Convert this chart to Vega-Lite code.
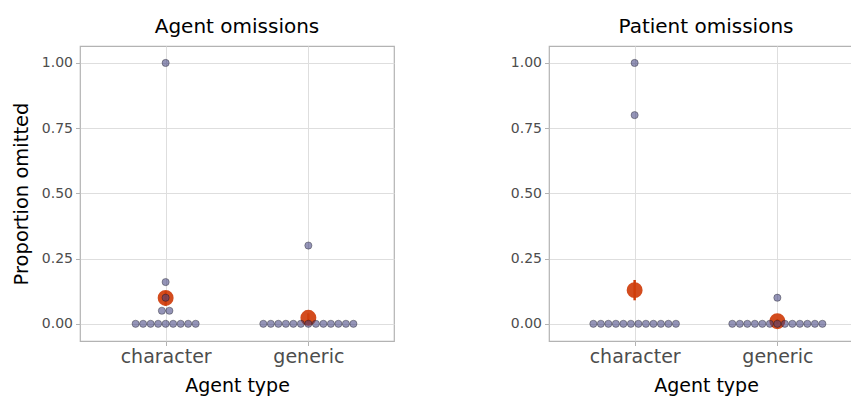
{
  "$schema": "https://vega.github.io/schema/vega-lite/v6.json",
  "background": "white",
  "padding": {"left": 10, "top": 16, "right": 0, "bottom": 0},
  "spacing": 114,
  "config": {
    "font": "DejaVu Sans",
    "view": {"stroke": "#b3b3b3", "strokeWidth": 1.2},
    "title": {"fontSize": 20, "fontWeight": "normal", "color": "#000000", "offset": 9, "anchor": "middle"}
  },
  "datasets": {
    "dots": [
      {"task": "Agent omissions", "type": "character", "prop": 0},
      {"task": "Agent omissions", "type": "character", "prop": 0},
      {"task": "Agent omissions", "type": "character", "prop": 0},
      {"task": "Agent omissions", "type": "character", "prop": 0},
      {"task": "Agent omissions", "type": "character", "prop": 0},
      {"task": "Agent omissions", "type": "character", "prop": 0},
      {"task": "Agent omissions", "type": "character", "prop": 0},
      {"task": "Agent omissions", "type": "character", "prop": 0},
      {"task": "Agent omissions", "type": "character", "prop": 0},
      {"task": "Agent omissions", "type": "character", "prop": 0.05},
      {"task": "Agent omissions", "type": "character", "prop": 0.05},
      {"task": "Agent omissions", "type": "character", "prop": 0.1},
      {"task": "Agent omissions", "type": "character", "prop": 0.16},
      {"task": "Agent omissions", "type": "character", "prop": 1},
      {"task": "Agent omissions", "type": "generic", "prop": 0},
      {"task": "Agent omissions", "type": "generic", "prop": 0},
      {"task": "Agent omissions", "type": "generic", "prop": 0},
      {"task": "Agent omissions", "type": "generic", "prop": 0},
      {"task": "Agent omissions", "type": "generic", "prop": 0},
      {"task": "Agent omissions", "type": "generic", "prop": 0},
      {"task": "Agent omissions", "type": "generic", "prop": 0},
      {"task": "Agent omissions", "type": "generic", "prop": 0},
      {"task": "Agent omissions", "type": "generic", "prop": 0},
      {"task": "Agent omissions", "type": "generic", "prop": 0},
      {"task": "Agent omissions", "type": "generic", "prop": 0},
      {"task": "Agent omissions", "type": "generic", "prop": 0},
      {"task": "Agent omissions", "type": "generic", "prop": 0},
      {"task": "Agent omissions", "type": "generic", "prop": 0.3},
      {"task": "Patient omissions", "type": "character", "prop": 0},
      {"task": "Patient omissions", "type": "character", "prop": 0},
      {"task": "Patient omissions", "type": "character", "prop": 0},
      {"task": "Patient omissions", "type": "character", "prop": 0},
      {"task": "Patient omissions", "type": "character", "prop": 0},
      {"task": "Patient omissions", "type": "character", "prop": 0},
      {"task": "Patient omissions", "type": "character", "prop": 0},
      {"task": "Patient omissions", "type": "character", "prop": 0},
      {"task": "Patient omissions", "type": "character", "prop": 0},
      {"task": "Patient omissions", "type": "character", "prop": 0},
      {"task": "Patient omissions", "type": "character", "prop": 0},
      {"task": "Patient omissions", "type": "character", "prop": 0},
      {"task": "Patient omissions", "type": "character", "prop": 0.8},
      {"task": "Patient omissions", "type": "character", "prop": 1},
      {"task": "Patient omissions", "type": "generic", "prop": 0},
      {"task": "Patient omissions", "type": "generic", "prop": 0},
      {"task": "Patient omissions", "type": "generic", "prop": 0},
      {"task": "Patient omissions", "type": "generic", "prop": 0},
      {"task": "Patient omissions", "type": "generic", "prop": 0},
      {"task": "Patient omissions", "type": "generic", "prop": 0},
      {"task": "Patient omissions", "type": "generic", "prop": 0},
      {"task": "Patient omissions", "type": "generic", "prop": 0},
      {"task": "Patient omissions", "type": "generic", "prop": 0},
      {"task": "Patient omissions", "type": "generic", "prop": 0},
      {"task": "Patient omissions", "type": "generic", "prop": 0},
      {"task": "Patient omissions", "type": "generic", "prop": 0},
      {"task": "Patient omissions", "type": "generic", "prop": 0},
      {"task": "Patient omissions", "type": "generic", "prop": 0.1}
    ],
    "means": [
      {"task": "Agent omissions", "type": "character", "mean": 0.099, "lo": 0.07, "hi": 0.125},
      {"task": "Agent omissions", "type": "generic", "mean": 0.023, "lo": 0.005, "hi": 0.04},
      {"task": "Patient omissions", "type": "character", "mean": 0.129, "lo": 0.09, "hi": 0.168},
      {"task": "Patient omissions", "type": "generic", "mean": 0.01, "lo": 0.0, "hi": 0.018}
    ]
  },
  "hconcat": [
    {
      "title": "Agent omissions",
      "width": 314,
      "height": 295,
      "layer": [
        {
          "data": {"name": "means"},
          "transform": [
            {"filter": "datum.task == 'Agent omissions'"},
            {"calculate": "datum.type == 'character' ? 1 : 2", "as": "xi"}
          ],
          "mark": {"type": "rule", "color": "#cf3d0b", "strokeWidth": 2.5},
          "encoding": {
            "x": {
              "field": "xi", "type": "quantitative",
              "scale": {"domain": [0.4, 2.6], "nice": false, "zero": false},
              "axis": {
                "values": [1, 2],
                "labelExpr": "datum.value == 1 ? 'character' : 'generic'",
                "grid": true, "gridColor": "#dedede", "gridWidth": 1,
                "domain": false,
                "tickColor": "#b3b3b3", "tickSize": 4.5, "tickWidth": 1,
                "labelFontSize": 19, "labelColor": "#4d4d4d", "labelPadding": 2, "labelFlush": false,
                "title": "Agent type", "titleFontSize": 19, "titleFontWeight": "normal", "titleColor": "#000000", "titlePadding": 10
              }
            },
            "y": {
              "field": "lo", "type": "quantitative",
              "scale": {"domain": [-0.066, 1.065], "nice": false, "zero": false},
              "axis": {
                "values": [0, 0.125, 0.25, 0.375, 0.5, 0.625, 0.75, 0.875, 1],
                "labelExpr": "(datum.value * 4) % 1 == 0 ? format(datum.value, '.2f') : ''",
                "labelOverlap": false,
                "grid": true,
                "gridColor": {"condition": {"test": "(datum.value * 4) % 1 == 0", "value": "#dedede"}, "value": "#eeeeee"},
                "gridWidth": {"condition": {"test": "(datum.value * 4) % 1 == 0", "value": 1.1}, "value": 0.8},
                "tickOpacity": {"condition": {"test": "(datum.value * 4) % 1 == 0", "value": 1}, "value": 0},
                "domain": false,
                "tickColor": "#b3b3b3", "tickSize": 4.5, "tickWidth": 1,
                "labelFontSize": 14, "labelColor": "#4d4d4d", "labelPadding": 3,
                "title": "Proportion omitted", "titleFontSize": 19.5, "titleFontWeight": "normal", "titleColor": "#000000", "titlePadding": 10
              }
            },
            "y2": {"field": "hi"}
          }
        },
        {
          "data": {"name": "means"},
          "transform": [
            {"filter": "datum.task == 'Agent omissions'"},
            {"calculate": "datum.type == 'character' ? 1 : 2", "as": "xi"}
          ],
          "mark": {"type": "circle", "size": 254, "color": "#cf3d0b", "opacity": 0.92},
          "encoding": {
            "x": {"field": "xi", "type": "quantitative"},
            "y": {"field": "mean", "type": "quantitative", "title": "Proportion omitted"}
          }
        },
        {
          "data": {"name": "dots"},
          "transform": [
            {"filter": "datum.task == 'Agent omissions'"},
            {"window": [{"op": "row_number", "as": "k"}, {"op": "count", "as": "n"}], "groupby": ["type", "prop"], "frame": [null, null]},
            {"calculate": "(datum.type == 'character' ? 1 : 2) + (datum.k - (datum.n + 1) / 2) * 0.0526", "as": "xpos"}
          ],
          "mark": {"type": "circle", "size": 52, "fill": "#40407e", "fillOpacity": 0.56, "stroke": "#000000", "strokeOpacity": 0.4, "strokeWidth": 0.8},
          "encoding": {
            "x": {"field": "xpos", "type": "quantitative"},
            "y": {"field": "prop", "type": "quantitative", "title": "Proportion omitted"}
          }
        }
      ]
    },
    {
      "title": "Patient omissions",
      "width": 314,
      "height": 295,
      "layer": [
        {
          "data": {"name": "means"},
          "transform": [
            {"filter": "datum.task == 'Patient omissions'"},
            {"calculate": "datum.type == 'character' ? 1 : 2", "as": "xi"}
          ],
          "mark": {"type": "rule", "color": "#cf3d0b", "strokeWidth": 2.5},
          "encoding": {
            "x": {
              "field": "xi", "type": "quantitative",
              "scale": {"domain": [0.4, 2.6], "nice": false, "zero": false},
              "axis": {
                "values": [1, 2],
                "labelExpr": "datum.value == 1 ? 'character' : 'generic'",
                "grid": true, "gridColor": "#dedede", "gridWidth": 1,
                "domain": false,
                "tickColor": "#b3b3b3", "tickSize": 4.5, "tickWidth": 1,
                "labelFontSize": 19, "labelColor": "#4d4d4d", "labelPadding": 2, "labelFlush": false,
                "title": "Agent type", "titleFontSize": 19, "titleFontWeight": "normal", "titleColor": "#000000", "titlePadding": 10
              }
            },
            "y": {
              "field": "lo", "type": "quantitative",
              "scale": {"domain": [-0.066, 1.065], "nice": false, "zero": false},
              "axis": {
                "values": [0, 0.125, 0.25, 0.375, 0.5, 0.625, 0.75, 0.875, 1],
                "labelExpr": "(datum.value * 4) % 1 == 0 ? format(datum.value, '.2f') : ''",
                "labelOverlap": false,
                "grid": true,
                "gridColor": {"condition": {"test": "(datum.value * 4) % 1 == 0", "value": "#dedede"}, "value": "#eeeeee"},
                "gridWidth": {"condition": {"test": "(datum.value * 4) % 1 == 0", "value": 1.1}, "value": 0.8},
                "tickOpacity": {"condition": {"test": "(datum.value * 4) % 1 == 0", "value": 1}, "value": 0},
                "domain": false,
                "tickColor": "#b3b3b3", "tickSize": 4.5, "tickWidth": 1,
                "labelFontSize": 14, "labelColor": "#4d4d4d", "labelPadding": 3,
                "title": null
              }
            },
            "y2": {"field": "hi"}
          }
        },
        {
          "data": {"name": "means"},
          "transform": [
            {"filter": "datum.task == 'Patient omissions'"},
            {"calculate": "datum.type == 'character' ? 1 : 2", "as": "xi"}
          ],
          "mark": {"type": "circle", "size": 254, "color": "#cf3d0b", "opacity": 0.92},
          "encoding": {
            "x": {"field": "xi", "type": "quantitative"},
            "y": {"field": "mean", "type": "quantitative", "title": null}
          }
        },
        {
          "data": {"name": "dots"},
          "transform": [
            {"filter": "datum.task == 'Patient omissions'"},
            {"window": [{"op": "row_number", "as": "k"}, {"op": "count", "as": "n"}], "groupby": ["type", "prop"], "frame": [null, null]},
            {"calculate": "(datum.type == 'character' ? 1 : 2) + (datum.k - (datum.n + 1) / 2) * 0.0526", "as": "xpos"}
          ],
          "mark": {"type": "circle", "size": 52, "fill": "#40407e", "fillOpacity": 0.56, "stroke": "#000000", "strokeOpacity": 0.4, "strokeWidth": 0.8},
          "encoding": {
            "x": {"field": "xpos", "type": "quantitative"},
            "y": {"field": "prop", "type": "quantitative", "title": null}
          }
        }
      ]
    }
  ]
}
